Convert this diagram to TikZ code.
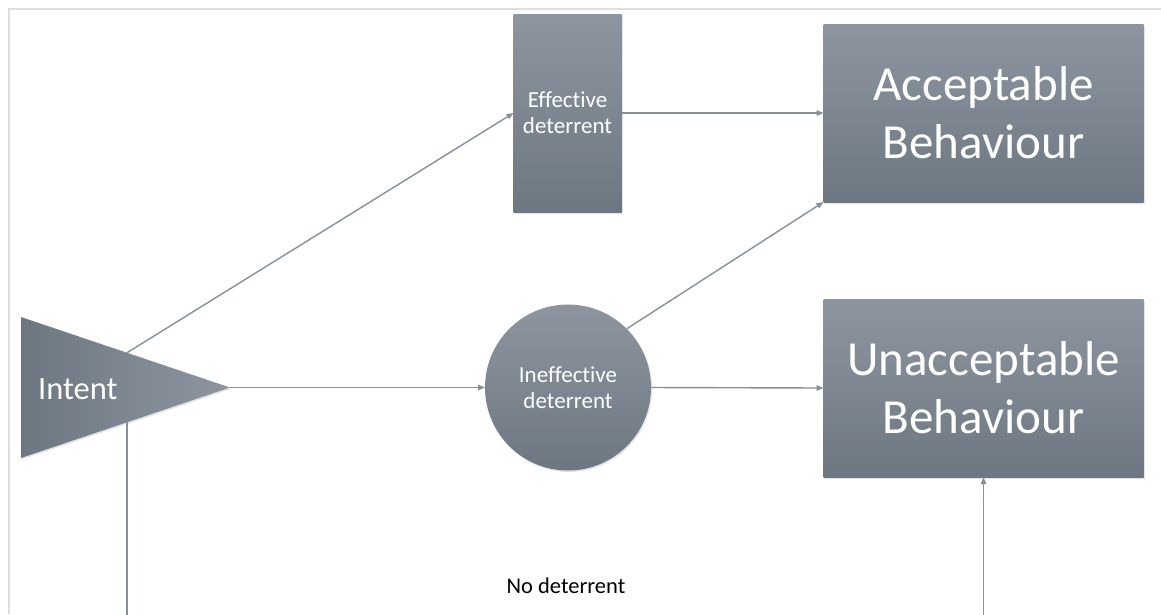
\documentclass[tikz,border=0pt]{standalone}
\usepackage{fontspec}
\setmainfont{Carlito}[Ligatures=NoCommon]
\usetikzlibrary{arrows.meta,shapes.geometric,shadows,calc}

\definecolor{shadetop}{HTML}{8D96A0}
\definecolor{shadebot}{HTML}{6D7782}
\definecolor{wirecol}{HTML}{86909B}
\definecolor{framegray}{HTML}{DEDEDE}

\begin{document}
\begin{tikzpicture}[x=1pt,y=-1pt,
  solid shape/.style={inner sep=0pt, outer sep=0pt, draw=none, text=white,
    drop shadow={opacity=0.22, shadow xshift=1pt, shadow yshift=-1.5pt}},
  vshade/.style={top color=shadetop, bottom color=shadebot},
  bigbox/.style={solid shape, vshade, rectangle, minimum width=320pt,
    minimum height=178pt, align=center, font=\fontsize{49}{58}\selectfont},
  smalltext/.style={align=center, font=\fontsize{23}{26}\selectfont},
  wireline/.style={draw=wirecol, line width=1.4pt},
  wire/.style={wireline, -{Triangle[length=7pt,width=5.5pt]}},
]
\useasboundingbox (0,0) rectangle (1161,614);

% page frame
\draw[framegray, line width=1.5pt] (1161,9) -- (9,9) -- (9,614);

% starting triangle, apex pointing right
\node[solid shape, isosceles triangle, isosceles triangle stretches,
  minimum width=141pt, minimum height=209pt, anchor=apex,
  left color=shadebot, right color=shadetop] (intent) at (230,387.5) {};
\node[anchor=base west, inner sep=0pt, text=white,
  font=\fontsize{32.5}{38}\selectfont] (intentlabel) at (38,399) {Intent};

% deterrents
\node[solid shape, vshade, rectangle, minimum width=108pt, minimum height=198pt,
  smalltext] (eff) at (567.5,113) {Effective\\deterrent};
\node[solid shape, vshade, circle, minimum size=166pt, smalltext]
  (ineff) at (568,387.5) {Ineffective\\deterrent};

% outcomes
\node[bigbox] (acc) at (983.5,113) {Acceptable\\Behaviour};
\node[bigbox] (unacc) at (983.5,388) {Unacceptable\\Behaviour};

% connector ends on the triangle sides and at the lower edge
\coordinate (intentup) at ($(intent.apex)!0.4928!(intent.left corner)$);
\coordinate (intentdown) at ($(intent.apex)!0.4928!(intent.right corner)$);
\coordinate (bot) at (0,616);
\coordinate (ndleft) at (intentdown |- bot);
\coordinate (ndright) at (unacc.south |- bot);

\draw[wire] (intent.apex) -- (ineff.west);
\draw[wire] (intentup) -- (eff.west);
\draw[wire] (eff.east) -- (acc.west);
\draw[wire] (ineff.north east) -- (acc.south west);
\draw[wire] (ineff.east) -- (unacc.west);
\draw[wireline] (intentdown) -- (ndleft);
\draw[wire] (ndright) -- (unacc.south);

\node[anchor=base, inner sep=0pt, font=\fontsize{22.5}{26}\selectfont]
  (nodet) at (566,593) {No deterrent};
\end{tikzpicture}
\end{document}
